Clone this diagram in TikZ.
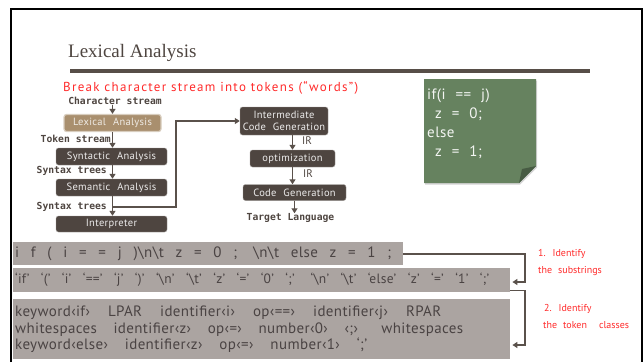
\documentclass[tikz,border=0pt]{standalone}
\usepackage{fontspec}
\setmainfont{PT Sans}
\newfontfamily\titlefont{Liberation Serif}
\newfontfamily\streamfont{DejaVu Sans Mono}
\usetikzlibrary{arrows.meta, positioning, calc, shadows}
\definecolor{srule}{HTML}{574E48}
\definecolor{sdark}{HTML}{4E4540}
\definecolor{stan}{HTML}{A98F6E}
\definecolor{sstrip}{HTML}{ABA4A1}
\definecolor{sstriptext}{HTML}{4A4343}
\definecolor{snote}{HTML}{66825F}
\definecolor{sred}{HTML}{FF2A2A}
\definecolor{sline}{HTML}{5A514B}
% one strip line, spaces stretched to its full width
\newcommand{\stripline}[2]{\makebox[#1][s]{\spaceskip=0.2em plus 1fil\relax #2}}
\tikzset{
  stagebox/.style={draw=sdark!55, fill=sdark, text=white!90!sdark, rounded corners=2.5pt,
                   minimum height=17pt, inner sep=1pt, align=center,
                   font={\fontsize{10.5}{12.5}\selectfont\addfontfeature{LetterSpace=3}\spaceskip=7pt\relax}},
  lexbox/.style={stagebox, fill=stan, draw=stan!45, line width=1.2pt, text=white!82!stan},
  streamlbl/.style={font=\streamfont\bfseries\fontsize{9.7}{11}\selectfont, text=sdark, inner sep=0pt},
  irlbl/.style={font=\fontsize{11}{12}\selectfont, text=sdark, inner sep=0pt},
  strip/.style={fill=sstrip, text=sstriptext, anchor=north west, inner xsep=2pt, inner ysep=0pt,
                align=left, font={\fontsize{15}{16.5}\selectfont\addfontfeature{LetterSpace=2.5}}},
  redlbl/.style={text=sred, font={\fontsize{10}{16}\selectfont\spaceskip=6pt\relax}, align=left, anchor=west, inner sep=0pt},
  arr/.style={-{Triangle[length=5pt,width=6pt]}, line width=1.8pt, sline},
}

\begin{document}
\begin{tikzpicture}[x=1pt, y=-1pt]
  \useasboundingbox (0,0) rectangle (644,362);

  % slide frame and heading
  \draw[line width=2.4pt] (11,362) -- (11,9) -- (642,9) -- (642,362);
  \node[anchor=base west, inner sep=0pt, text=sdark, font=\titlefont\fontsize{19}{22}\selectfont] (title) at (68,57) {Lexical Analysis};
  \fill[srule] (70,69) rectangle (590,73);
  \node[anchor=west, inner sep=0pt, text=sred, font={\fontsize{13}{15}\selectfont\addfontfeature{LetterSpace=10}}] (goal) at (63,88) {Break character stream into tokens (“words”)};

  % front end
  \node[streamlbl] (cs) at (115,101) {Character stream};
  \node[lexbox, minimum width=97pt] (lex) at (112.5,123) {Lexical Analysis};
  \node[streamlbl, anchor=east] (ts) at (111,139) {Token stream};
  \node[stagebox, minimum width=111pt] (syn) at (111.5,156.5) {Syntactic Analysis};
  \node[streamlbl, anchor=east] (st1) at (107,171) {Syntax trees};
  \node[stagebox, minimum width=111pt] (sem) at (111.5,187.5) {Semantic Analysis};
  \node[streamlbl, anchor=east] (st2) at (107,207) {Syntax trees};
  \node[stagebox, minimum width=111pt, minimum height=16pt] (interp) at (111.5,224) {Interpreter};

  \draw[arr] (lex.north |- cs.south) -- (lex.north);
  \draw[arr] (lex.south) -- (lex.south |- syn.north);
  \draw[arr] (lex.south |- syn.south) -- (lex.south |- sem.north);
  \draw[arr] (lex.south |- sem.south) -- (lex.south |- interp.north);

  % back end
  \node[stagebox, minimum width=88pt, minimum height=28pt] (icg) at (284,121) {Intermediate\\Code Generation};
  \node[stagebox, minimum width=85pt] (opt) at (292.5,158.5) {optimization};
  \node[stagebox, minimum width=103pt, minimum height=16pt] (cg) at (294.5,192.5) {Code Generation};
  \node[streamlbl] (tl) at (290.5,218) {Target Language};
  \node[irlbl] (ir1) at (307,141) {IR};
  \node[irlbl] (ir2) at (308,174) {IR};

  \coordinate (fork) at (lex.south |- st2.east);
  \coordinate (turn) at (176,121);
  \draw[arr] (fork) -| (turn) -- (icg.west);
  \draw[arr] (opt.north |- icg.south) -- (opt.north);
  \draw[arr] (opt.south) -- (opt.south |- cg.north);
  \draw[arr] (cg.south) -- (cg.south |- tl.north);

  % sticky note with the source
  \fill[snote, drop shadow={opacity=0.35, shadow xshift=1pt, shadow yshift=-1.5pt}]
    (424,79) -- (536,79) -- (536,166) -- (519,183) -- (424,183) -- cycle;
  \fill[snote!70!black] (519,183) -- (522,169) -- (536,166) -- cycle;
  \node[anchor=north west, inner sep=0pt, text=white!92!snote, align=left,
        font={\fontsize{15}{19}\selectfont\addfontfeature{LetterSpace=3}\spaceskip=5pt\relax}] (src) at (427,89)
    {if(i \ == \ j)\\\hspace*{8pt}z \ = \ 0;\\else\\\hspace*{8pt}z \ = \ 1;};

  % character stream, lexemes, tokens
  \node[strip, text width=386pt, minimum height=23pt] (s1) at (13,242)
    {\stripline{376pt}{i f ( i = = j )\textbackslash n\textbackslash t z = 0 ; \textbackslash n\textbackslash t else z = 1 ;}};
  \node[strip, text width=493pt, minimum height=24pt, font={\fontsize{13.5}{16}\selectfont\addfontfeature{LetterSpace=2}}] (s2) at (13,268)
    {\stripline{474pt}{‘if’ ‘(’ ‘i’ ‘==’ ‘j’ ‘)’ ‘\textbackslash n’ ‘\textbackslash t’ ‘z’ ‘=’ ‘0’ ‘;’ ‘\textbackslash n’ ‘\textbackslash t’ ‘else’ ‘z’ ‘=’ ‘1’ ‘;’}};
  \node[strip, text width=493pt, minimum height=60pt] (s3) at (13,299)
    {\stripline{426pt}{keyword‹if› LPAR identifier‹i› op‹==› identifier‹j› RPAR}\\
     \stripline{448pt}{whitespaces identifier‹z› op‹=› number‹0› ‹;› whitespaces}\\
     \stripline{352pt}{keyword‹else› identifier‹z› op‹=› number‹1› ‘;’}};

  \coordinate (k1) at (525,282);
  \draw[arr] (s1.east) -| (k1) -- ([xshift=2pt]k1 -| s2.east);
  \coordinate (k2) at (525,345);
  \draw[arr] ([yshift=2pt]s2.south east) -| (k2) -- ([xshift=2pt]k2 -| s3.east);

  \node[redlbl] (n1a) at (538,254) {1. Identify};
  \node[redlbl] (n1b) at (538,271) {the substrings};
  \node[redlbl] (n2a) at (544,309) {2. Identify};
  \node[redlbl] (n2b) at (543,325) {the token \ classes};
\end{tikzpicture}
\end{document}
